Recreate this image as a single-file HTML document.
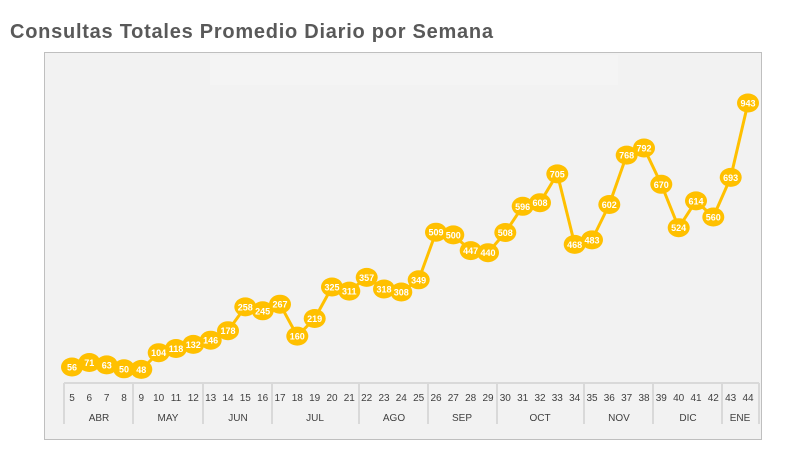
<!DOCTYPE html>
<html><head><meta charset="utf-8"><style>
body{margin:0;width:788px;height:452px;background:#fff;overflow:hidden}
svg{display:block}
</style></head><body>
<svg width="788" height="452" xmlns="http://www.w3.org/2000/svg" font-family="Liberation Sans, sans-serif">
<text x="10" y="38" font-size="20" font-weight="bold" fill="#595959" textLength="483" lengthAdjust="spacing">Consultas Totales Promedio Diario por Semana</text>
<rect x="44.5" y="52.5" width="717" height="387" fill="#f2f2f2" stroke="#bfbfbf"/>
<rect x="210" y="55" width="408" height="30" fill="#f4f4f4"/>
<g stroke="#d9d9d9" stroke-width="2" fill="none">
<line x1="64" y1="383" x2="759" y2="383"/>
<line x1="64" y1="383" x2="64" y2="424"/>
<line x1="133" y1="383" x2="133" y2="424"/>
<line x1="203" y1="383" x2="203" y2="424"/>
<line x1="272" y1="383" x2="272" y2="424"/>
<line x1="359" y1="383" x2="359" y2="424"/>
<line x1="428" y1="383" x2="428" y2="424"/>
<line x1="497" y1="383" x2="497" y2="424"/>
<line x1="584" y1="383" x2="584" y2="424"/>
<line x1="653" y1="383" x2="653" y2="424"/>
<line x1="722" y1="383" x2="722" y2="424"/>
<line x1="759" y1="383" x2="759" y2="424"/>
</g>
<g font-size="10" fill="#404040" text-anchor="middle">
<text x="72" y="401">5</text><text x="89.3" y="401">6</text><text x="106.7" y="401">7</text><text x="124" y="401">8</text>
<text x="141.3" y="401">9</text><text x="158.7" y="401">10</text><text x="176" y="401">11</text><text x="193.3" y="401">12</text>
<text x="210.7" y="401">13</text><text x="228" y="401">14</text><text x="245.3" y="401">15</text><text x="262.7" y="401">16</text>
<text x="280" y="401">17</text><text x="297.3" y="401">18</text><text x="314.7" y="401">19</text><text x="332" y="401">20</text><text x="349.3" y="401">21</text>
<text x="366.7" y="401">22</text><text x="384" y="401">23</text><text x="401.3" y="401">24</text><text x="418.7" y="401">25</text>
<text x="436" y="401">26</text><text x="453.3" y="401">27</text><text x="470.7" y="401">28</text><text x="488" y="401">29</text>
<text x="505.3" y="401">30</text><text x="522.7" y="401">31</text><text x="540" y="401">32</text><text x="557.3" y="401">33</text><text x="574.7" y="401">34</text>
<text x="592" y="401">35</text><text x="609.3" y="401">36</text><text x="626.7" y="401">37</text><text x="644" y="401">38</text>
<text x="661.3" y="401">39</text><text x="678.7" y="401">40</text><text x="696" y="401">41</text><text x="713.3" y="401">42</text>
<text x="730.7" y="401">43</text><text x="748" y="401">44</text>
<text x="99" y="421">ABR</text><text x="168" y="421">MAY</text><text x="238" y="421">JUN</text><text x="315" y="421">JUL</text>
<text x="394" y="421">AGO</text><text x="462" y="421">SEP</text><text x="540" y="421">OCT</text><text x="619" y="421">NOV</text>
<text x="688" y="421">DIC</text><text x="740" y="421">ENE</text>
</g>
<polyline fill="none" stroke="#FFC000" stroke-width="3" stroke-linejoin="round" points="72,367 89.3,362.5 106.7,364.9 124,368.8 141.3,369.4 158.7,352.7 176,348.5 193.3,344.4 210.7,340.2 228,330.7 245.3,306.9 262.7,310.8 280,304.2 297.3,336.1 314.7,318.5 332,287 349.3,291.1 366.7,277.4 384,289 401.3,292 418.7,279.8 436,232.2 453.3,234.9 470.7,250.6 488,252.7 505.3,232.5 522.7,206.3 540,202.7 557.3,173.9 574.7,244.4 592,239.9 609.3,204.5 626.7,155.1 644,148 661.3,184.3 678.7,227.7 696,200.9 713.3,217 730.7,177.4 748,103"/>
<g fill="#FFC000">
<ellipse cx="72" cy="367" rx="11" ry="9.5"/><ellipse cx="89.3" cy="362.5" rx="11" ry="9.5"/><ellipse cx="106.7" cy="364.9" rx="11" ry="9.5"/><ellipse cx="124" cy="368.8" rx="11" ry="9.5"/><ellipse cx="141.3" cy="369.4" rx="11" ry="9.5"/>
<ellipse cx="158.7" cy="352.7" rx="11" ry="9.5"/><ellipse cx="176" cy="348.5" rx="11" ry="9.5"/><ellipse cx="193.3" cy="344.4" rx="11" ry="9.5"/><ellipse cx="210.7" cy="340.2" rx="11" ry="9.5"/><ellipse cx="228" cy="330.7" rx="11" ry="9.5"/>
<ellipse cx="245.3" cy="306.9" rx="11" ry="9.5"/><ellipse cx="262.7" cy="310.8" rx="11" ry="9.5"/><ellipse cx="280" cy="304.2" rx="11" ry="9.5"/><ellipse cx="297.3" cy="336.1" rx="11" ry="9.5"/><ellipse cx="314.7" cy="318.5" rx="11" ry="9.5"/>
<ellipse cx="332" cy="287" rx="11" ry="9.5"/><ellipse cx="349.3" cy="291.1" rx="11" ry="9.5"/><ellipse cx="366.7" cy="277.4" rx="11" ry="9.5"/><ellipse cx="384" cy="289" rx="11" ry="9.5"/><ellipse cx="401.3" cy="292" rx="11" ry="9.5"/>
<ellipse cx="418.7" cy="279.8" rx="11" ry="9.5"/><ellipse cx="436" cy="232.2" rx="11" ry="9.5"/><ellipse cx="453.3" cy="234.9" rx="11" ry="9.5"/><ellipse cx="470.7" cy="250.6" rx="11" ry="9.5"/><ellipse cx="488" cy="252.7" rx="11" ry="9.5"/>
<ellipse cx="505.3" cy="232.5" rx="11" ry="9.5"/><ellipse cx="522.7" cy="206.3" rx="11" ry="9.5"/><ellipse cx="540" cy="202.7" rx="11" ry="9.5"/><ellipse cx="557.3" cy="173.9" rx="11" ry="9.5"/><ellipse cx="574.7" cy="244.4" rx="11" ry="9.5"/>
<ellipse cx="592" cy="239.9" rx="11" ry="9.5"/><ellipse cx="609.3" cy="204.5" rx="11" ry="9.5"/><ellipse cx="626.7" cy="155.1" rx="11" ry="9.5"/><ellipse cx="644" cy="148" rx="11" ry="9.5"/><ellipse cx="661.3" cy="184.3" rx="11" ry="9.5"/>
<ellipse cx="678.7" cy="227.7" rx="11" ry="9.5"/><ellipse cx="696" cy="200.9" rx="11" ry="9.5"/><ellipse cx="713.3" cy="217" rx="11" ry="9.5"/><ellipse cx="730.7" cy="177.4" rx="11" ry="9.5"/><ellipse cx="748" cy="103" rx="11" ry="9.5"/>
</g>
<g font-size="9" font-weight="bold" fill="#fff" text-anchor="middle">
<text x="72" y="370.5">56</text><text x="89.3" y="366">71</text><text x="106.7" y="368.4">63</text><text x="124" y="372.3">50</text><text x="141.3" y="372.9">48</text>
<text x="158.7" y="356.2">104</text><text x="176" y="352">118</text><text x="193.3" y="347.9">132</text><text x="210.7" y="343.7">146</text><text x="228" y="334.2">178</text>
<text x="245.3" y="310.4">258</text><text x="262.7" y="314.3">245</text><text x="280" y="307.7">267</text><text x="297.3" y="339.6">160</text><text x="314.7" y="322">219</text>
<text x="332" y="290.5">325</text><text x="349.3" y="294.6">311</text><text x="366.7" y="280.9">357</text><text x="384" y="292.5">318</text><text x="401.3" y="295.5">308</text>
<text x="418.7" y="283.3">349</text><text x="436" y="235.7">509</text><text x="453.3" y="238.4">500</text><text x="470.7" y="254.1">447</text><text x="488" y="256.2">440</text>
<text x="505.3" y="236">508</text><text x="522.7" y="209.8">596</text><text x="540" y="206.2">608</text><text x="557.3" y="177.4">705</text><text x="574.7" y="247.9">468</text>
<text x="592" y="243.4">483</text><text x="609.3" y="208">602</text><text x="626.7" y="158.6">768</text><text x="644" y="151.5">792</text><text x="661.3" y="187.8">670</text>
<text x="678.7" y="231.2">524</text><text x="696" y="204.4">614</text><text x="713.3" y="220.5">560</text><text x="730.7" y="180.9">693</text><text x="748" y="106.5">943</text>
</g>
</svg>
</body></html>
